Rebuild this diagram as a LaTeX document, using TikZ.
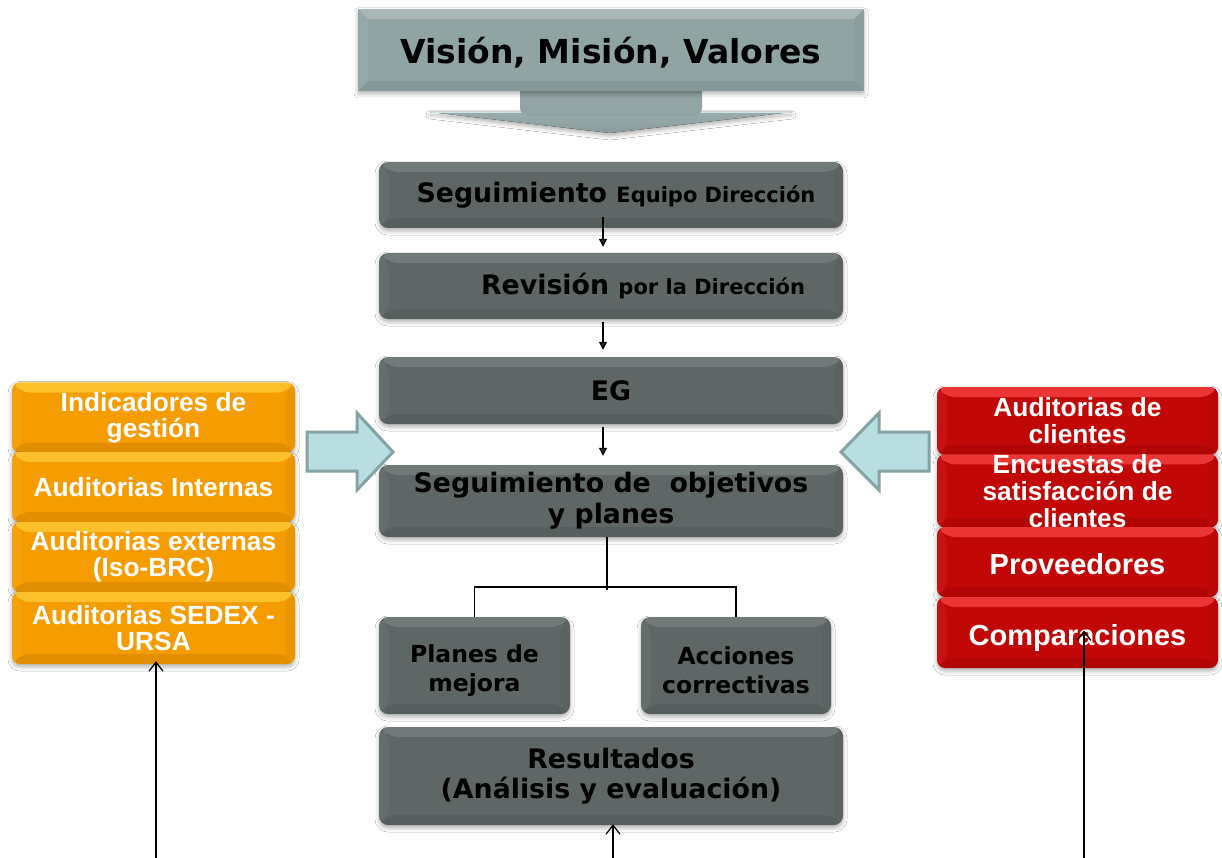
\documentclass[tikz,border=0pt]{standalone}
\usepackage{fontspec}
\setmainfont{DejaVu Sans}
\newfontfamily\arialfont{Liberation Sans}
\usetikzlibrary{arrows.meta,shadows.blur}

\definecolor{boxgray}{HTML}{5E6666}
\definecolor{bannergray}{HTML}{91A4A4}
\definecolor{stemgray}{HTML}{93A4A4}
\definecolor{headtop}{HTML}{9AACAC}
\definecolor{headbot}{HTML}{8A9B9B}
\definecolor{headedge}{HTML}{CBE5E5}
\definecolor{orangebody}{HTML}{F59C00}
\definecolor{orangetop}{HTML}{FFD23C}
\definecolor{redbody}{HTML}{C20707}
\definecolor{redtop}{HTML}{FF4A4A}
\definecolor{arrowfill}{HTML}{B8DEE1}
\definecolor{arrowedge}{HTML}{86A3A3}

\tikzset{
  x=1pt, y=-1pt,
  % bevelled face: light top band, dark bottom band, faint side bands
  bevel/.style 2 args={path picture={
    \path (path picture bounding box.north west) coordinate (pNW)
          (path picture bounding box.north east) coordinate (pNE)
          (path picture bounding box.south west) coordinate (pSW)
          (path picture bounding box.south east) coordinate (pSE);
    \fill[#1,opacity=#2] (pNW) -- (pNE) -- ([shift={(-10pt,-10pt)}]pNE)
         -- ([shift={(10pt,-10pt)}]pNW) -- cycle;
    \fill[white,opacity=.05] (pNW) -- ([shift={(10pt,-10pt)}]pNW)
         -- ([shift={(10pt,10pt)}]pSW) -- (pSW) -- cycle;
    \fill[black,opacity=.04] (pNE) -- ([shift={(-10pt,-10pt)}]pNE)
         -- ([shift={(-10pt,10pt)}]pSE) -- (pSE) -- cycle;
    \fill[black,opacity=.08] (pSW) -- ([shift={(10pt,10pt)}]pSW)
         -- ([shift={(-10pt,10pt)}]pSE) -- (pSE) -- cycle;
  }},
  softshadow/.style={blur shadow={shadow xshift=0pt, shadow yshift=-3pt,
      shadow blur radius=4pt, shadow opacity=30}},
  gbox/.style={rounded corners=9pt, fill=boxgray, bevel={white}{.13},
      softshadow, inner sep=0pt, align=center, text=black,
      font=\bfseries\fontsize{26.8}{31}\selectfont},
  obox/.style={rounded corners=8pt, fill=orangebody, bevel={orangetop}{.7},
      softshadow, inner sep=0pt, align=center, text=white,
      minimum width=283pt, font=\arialfont\bfseries\fontsize{26.3}{26}\selectfont},
  rbox/.style={rounded corners=8pt, fill=redbody, bevel={redtop}{.7},
      softshadow, inner sep=0pt, align=center, text=white,
      minimum width=281pt, font=\arialfont\bfseries\fontsize{26.3}{27}\selectfont},
  banner/.style={fill=bannergray, bevel={white}{.22}, softshadow,
      inner sep=0pt, text=black, font=\bfseries\fontsize{33}{38}\selectfont},
  bluearrow/.style={fill=arrowfill, draw=arrowedge, line width=3pt, line join=miter},
  smallarrow/.style={line width=1.2pt, -{Triangle[length=8pt,width=8pt]}},
  feedarrow/.style={line width=1.2pt, -{Straight Barb[length=9pt,width=14pt]}},
  link/.style={line width=1.2pt},
}

\begin{document}
\begin{tikzpicture}
\fill[white] (0,0) rectangle (1222,858);
\useasboundingbox (0,0) rectangle (1222,858);

% downward arrow under the banner
\fill[softshadow, top color=headtop, bottom color=headbot]
  (430,112) -- (792,112) -- (610,133) -- cycle;
\draw[headedge, line width=1.5pt] (432,112.5) -- (790,112.5);
\fill[stemgray, rounded corners=8pt] (520,70) -- (520,116) -- (702,116) -- (702,70) -- cycle;

% banner
\node[banner, minimum width=506pt, minimum height=82pt, text height=30pt, text depth=2pt]
  (vmv) at (611,50) {Visión, Misión, Valores};

% central flow
\node[gbox, minimum width=464pt, minimum height=66pt] (seg) at (611,195)
  {\hspace*{10pt}Seguimiento {\fontsize{21}{24}\selectfont Equipo Dirección}};
\node[gbox, minimum width=464pt, minimum height=66pt] (rev) at (611,286)
  {\hspace*{64pt}Revisión {\fontsize{21}{24}\selectfont por la Dirección}};
\node[gbox, minimum width=464pt, minimum height=67pt] (eg) at (611,390.5) {EG};
\node[gbox, minimum width=464pt, minimum height=72pt] (sop) at (611,501)
  {Seguimiento de\ \ objetivos\\y planes};
\node[gbox, minimum width=191pt, minimum height=97pt,
      font=\bfseries\fontsize{23.5}{29}\selectfont] (pm) at (474.5,665.5)
  {\rule{0pt}{28pt}Planes de\\mejora};
\node[gbox, minimum width=190pt, minimum height=97pt,
      font=\bfseries\fontsize{23.5}{29}\selectfont] (ac) at (736,665.5)
  {\rule{0pt}{28pt}Acciones\\correctivas};
\node[gbox, minimum width=464pt, minimum height=98pt,
      font=\bfseries\fontsize{26.8}{30}\selectfont] (res) at (611,776)
  {Resultados\\(Análisis y evaluación)};

\draw[smallarrow, shorten >=6pt] ([xshift=-8pt,yshift=11pt]seg.south) -- ([xshift=-8pt]rev.north);
\draw[smallarrow, shorten >=7pt] ([xshift=-8pt,yshift=-3pt]rev.south) -- ([xshift=-8pt]eg.north);
\draw[smallarrow, shorten >=9pt] ([xshift=-8pt,yshift=-3pt]eg.south) -- ([xshift=-8pt]sop.north);

\coordinate (fork) at (607,587);
\draw[link] (fork |- sop.south) -- ([yshift=-3pt]fork);
\draw[link] (pm.north) |- (fork) -| (ac.north);

% left sources
\node[obox, minimum height=70pt] (o1) at (153.5,417.5) {Indicadores de\\gestión};
\node[obox, minimum height=70pt] (o2) at (153.5,487) {Auditorias Internas};
\node[obox, minimum height=70pt] (o3) at (153.5,557) {Auditorias externas\\(Iso-BRC)};
\node[obox, minimum height=72pt] (o4) at (153.5,628) {Auditorias SEDEX -\\URSA};

% right sources
\node[rbox, minimum height=68pt] (r1) at (1077.5,421) {Auditorias de\\clientes};
\node[rbox, minimum height=72pt] (r2) at (1077.5,491) {Encuestas de\\satisfacción de\\clientes};
\node[rbox, minimum height=70pt, align=none, text height=25pt, text depth=1pt,
      font=\arialfont\bfseries\fontsize{29}{30}\selectfont]
  (r3) at (1077.5,562) {Proveedores};
\node[rbox, minimum height=71pt, align=none, text height=26pt, text depth=1pt,
      font=\arialfont\bfseries\fontsize{29}{30}\selectfont]
  (r4) at (1077.5,632.5) {Comparaciones};

% inflow arrows
\draw[bluearrow] (307,432) -- (357,432) -- (357,413) -- (393,452) -- (357,490)
  -- (357,471) -- (307,471) -- cycle;
\draw[bluearrow] (929,432) -- (879,432) -- (879,413) -- (841,452) -- (879,490)
  -- (879,471) -- (929,471) -- cycle;

% feedback lines from the lower edge
\coordinate (lb) at (156,858);
\coordinate (cb) at (613,858);
\coordinate (rb) at (1084,858);
\draw[feedarrow, shorten >=-3pt] (lb) -- (lb |- o4.south);
\draw[feedarrow, shorten >=-1pt] (cb) -- (cb |- res.south);
\draw[feedarrow] (rb) -- ([yshift=2pt]rb |- r4.center);
\end{tikzpicture}
\end{document}
